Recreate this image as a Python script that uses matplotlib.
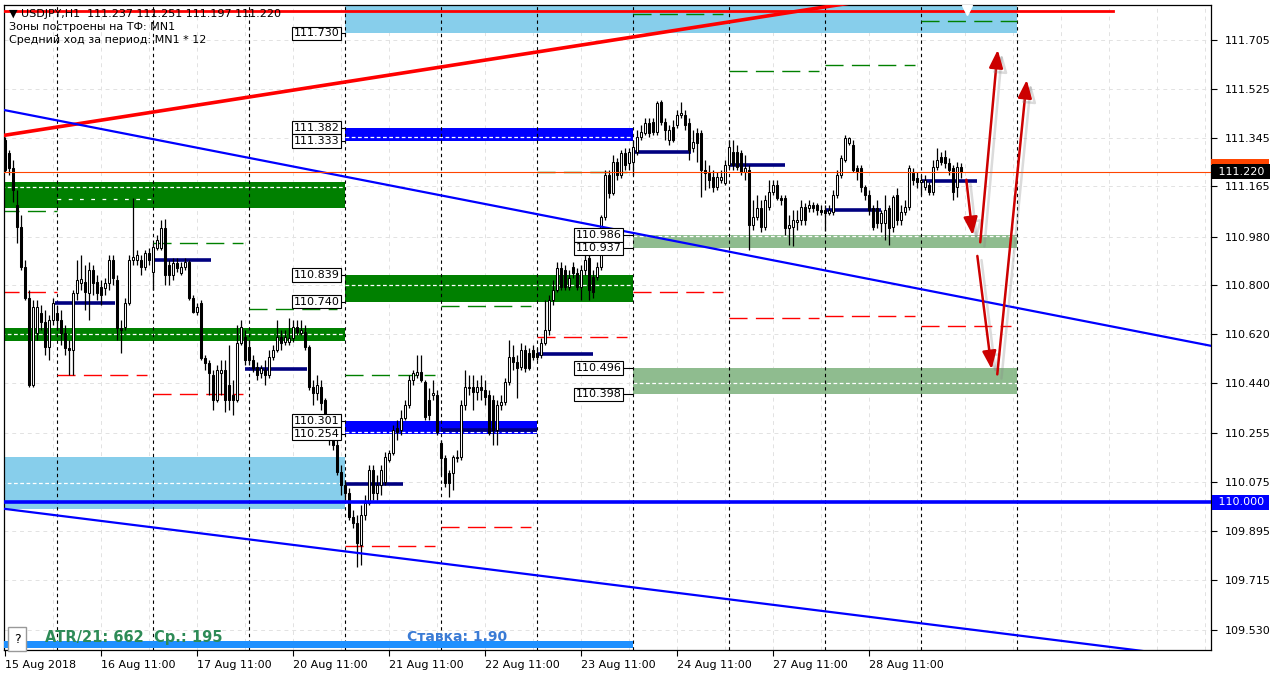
import matplotlib
matplotlib.use('Agg')
import matplotlib.pyplot as plt
import matplotlib.patheffects as pe
from matplotlib.patches import Rectangle, FancyArrowPatch

plt.rcParams['font.family'] = ['DejaVu Sans']

# USDJPY H1, one value per hourly bar, bar 0 = 15 Aug 2018 11:00
opens = [
    111.336, 111.288, 111.233, 111.096, 111.015, 110.868, 110.754, 110.433, 110.625, 110.698,
    110.665, 110.573, 110.673, 110.698, 110.673, 110.625, 110.569, 110.562, 110.772, 110.809,
    110.813, 110.772, 110.857, 110.813, 110.794, 110.791, 110.809, 110.894, 110.820, 110.643,
    110.647, 110.735, 110.894, 110.894, 110.894, 110.868, 110.919, 110.850, 110.938, 110.938,
    111.011, 110.875, 110.838, 110.883, 110.846, 110.868, 110.886, 110.754, 110.702, 110.735,
    110.533, 110.514, 110.470, 110.378, 110.477, 110.488, 110.433, 110.396, 110.378, 110.588,
    110.610, 110.573, 110.525, 110.499, 110.477, 110.488, 110.470, 110.536, 110.562, 110.610,
    110.591, 110.591, 110.606, 110.647, 110.625, 110.628, 110.573, 110.426, 110.403, 110.426,
    110.378, 110.304, 110.241, 110.212, 110.112, 110.064, 110.035, 109.946, 109.924, 109.843,
    109.954, 109.998, 110.120, 110.035, 110.064, 110.075, 110.156, 110.182, 110.274, 110.267,
    110.311, 110.359, 110.451, 110.470, 110.481, 110.444, 110.378, 110.396, 110.396, 110.219,
    110.164, 110.109, 110.109, 110.164, 110.167, 110.359, 110.422, 110.426, 110.407, 110.426,
    110.414, 110.396, 110.378, 110.267, 110.359, 110.370, 110.444, 110.536, 110.518, 110.499,
    110.562, 110.551, 110.562, 110.551, 110.544, 110.588, 110.636, 110.746, 110.783, 110.864,
    110.857, 110.794, 110.868, 110.846, 110.794, 110.857, 110.901, 110.831, 110.831, 110.868,
    111.052, 111.207, 111.141, 111.255, 111.207, 111.288, 111.251, 111.255, 111.292, 111.347,
    111.362, 111.399, 111.402, 111.365, 111.476, 111.402, 111.336, 111.384, 111.391, 111.428,
    111.428, 111.399, 111.307, 111.362, 111.362, 111.225, 111.214, 111.200, 111.163, 111.189,
    111.178, 111.244, 111.292, 111.292, 111.288, 111.218, 111.225, 111.023, 111.052, 111.085,
    111.015, 111.089, 111.144, 111.170, 111.122, 111.122, 111.011, 111.015, 111.034, 111.041,
    111.089, 111.085, 111.096, 111.096, 111.078, 111.078, 111.067, 111.071, 111.133, 111.207,
    111.262, 111.325, 111.318, 111.233, 111.233, 111.163, 111.133, 111.085, 111.085, 111.030,
    111.030, 111.085, 111.015, 111.133, 111.041, 111.071, 111.089, 111.214, 111.196, 111.181,
    111.163, 111.170, 111.144, 111.236, 111.273, 111.273, 111.251, 111.233, 111.163, 111.237,
]
highs = [
    111.347, 111.299, 111.262, 111.152, 111.059, 110.894, 110.783, 110.746, 110.746, 110.728,
    110.709, 110.691, 110.754, 110.728, 110.709, 110.654, 110.599, 110.783, 110.894, 110.912,
    110.875, 110.886, 110.875, 110.838, 110.820, 110.827, 110.912, 110.912, 110.838, 110.673,
    110.754, 110.912, 111.122, 110.931, 110.912, 110.931, 110.938, 110.956, 110.986, 111.041,
    111.044, 110.894, 110.901, 110.901, 110.886, 110.901, 110.894, 110.765, 110.735, 110.746,
    110.544, 110.525, 110.488, 110.507, 110.525, 110.525, 110.580, 110.451, 110.654, 110.673,
    110.636, 110.599, 110.544, 110.518, 110.507, 110.525, 110.562, 110.580, 110.673, 110.636,
    110.636, 110.680, 110.673, 110.673, 110.673, 110.654, 110.580, 110.451, 110.470, 110.451,
    110.385, 110.322, 110.267, 110.230, 110.138, 110.083, 110.053, 109.972, 109.954, 109.991,
    110.027, 110.138, 110.138, 110.101, 110.138, 110.186, 110.193, 110.285, 110.304, 110.341,
    110.378, 110.470, 110.488, 110.544, 110.544, 110.451, 110.422, 110.451, 110.414, 110.230,
    110.175, 110.120, 110.175, 110.193, 110.378, 110.488, 110.470, 110.470, 110.451, 110.470,
    110.451, 110.414, 110.396, 110.378, 110.396, 110.459, 110.599, 110.580, 110.544, 110.588,
    110.580, 110.569, 110.580, 110.569, 110.606, 110.746, 110.765, 110.820, 110.886, 110.886,
    110.875, 110.857, 110.886, 110.864, 110.875, 110.912, 110.923, 110.857, 110.886, 111.059,
    111.225, 111.225, 111.281, 111.270, 111.299, 111.307, 111.307, 111.336, 111.373, 111.391,
    111.417, 111.417, 111.417, 111.480, 111.483, 111.417, 111.391, 111.410, 111.447, 111.476,
    111.447, 111.417, 111.373, 111.380, 111.373, 111.262, 111.244, 111.225, 111.218, 111.225,
    111.262, 111.336, 111.336, 111.318, 111.299, 111.281, 111.244, 111.115, 111.133, 111.115,
    111.133, 111.189, 111.189, 111.189, 111.133, 111.133, 111.059, 111.078, 111.078, 111.115,
    111.104, 111.115, 111.107, 111.104, 111.096, 111.096, 111.096, 111.152, 111.225, 111.281,
    111.354, 111.347, 111.336, 111.244, 111.244, 111.170, 111.152, 111.096, 111.115, 111.078,
    111.133, 111.096, 111.133, 111.159, 111.096, 111.115, 111.244, 111.233, 111.218, 111.207,
    111.207, 111.181, 111.262, 111.307, 111.292, 111.299, 111.270, 111.244, 111.255, 111.251,
]
lows = [
    111.218, 111.207, 111.107, 110.956, 110.857, 110.746, 110.426, 110.426, 110.599, 110.636,
    110.544, 110.525, 110.654, 110.636, 110.580, 110.544, 110.470, 110.470, 110.746, 110.783,
    110.709, 110.673, 110.765, 110.746, 110.728, 110.765, 110.783, 110.802, 110.599, 110.551,
    110.636, 110.728, 110.875, 110.875, 110.838, 110.857, 110.875, 110.783, 110.931, 110.931,
    110.802, 110.802, 110.820, 110.850, 110.838, 110.857, 110.746, 110.698, 110.691, 110.525,
    110.488, 110.396, 110.341, 110.370, 110.396, 110.333, 110.341, 110.322, 110.370, 110.580,
    110.507, 110.507, 110.481, 110.451, 110.459, 110.433, 110.459, 110.525, 110.555, 110.562,
    110.580, 110.580, 110.591, 110.617, 110.617, 110.562, 110.414, 110.359, 110.378, 110.341,
    110.267, 110.212, 110.193, 110.101, 110.027, 110.009, 109.935, 109.906, 109.762, 109.769,
    109.935, 109.991, 110.009, 110.009, 110.027, 110.064, 110.149, 110.175, 110.230, 110.248,
    110.304, 110.348, 110.433, 110.459, 110.444, 110.304, 110.304, 110.378, 110.248, 110.101,
    110.057, 110.020, 110.046, 110.149, 110.156, 110.341, 110.396, 110.341, 110.378, 110.378,
    110.359, 110.248, 110.212, 110.212, 110.341, 110.359, 110.433, 110.488, 110.385, 110.488,
    110.481, 110.488, 110.525, 110.525, 110.533, 110.580, 110.617, 110.728, 110.776, 110.783,
    110.783, 110.783, 110.827, 110.783, 110.746, 110.838, 110.746, 110.754, 110.820, 110.857,
    111.041, 111.122, 111.133, 111.189, 111.196, 111.225, 111.225, 111.207, 111.281, 111.336,
    111.354, 111.347, 111.354, 111.354, 111.391, 111.336, 111.318, 111.329, 111.380, 111.417,
    111.373, 111.262, 111.292, 111.255, 111.126, 111.152, 111.159, 111.144, 111.152, 111.178,
    111.170, 111.233, 111.225, 111.225, 111.207, 111.189, 110.931, 111.004, 111.041, 110.997,
    111.004, 111.078, 111.133, 111.115, 111.096, 110.986, 110.949, 110.945, 111.004, 111.023,
    111.023, 111.071, 111.071, 111.059, 111.059, 111.001, 111.059, 111.059, 111.122, 111.196,
    111.255, 111.318, 111.218, 111.189, 111.144, 111.115, 111.059, 111.004, 111.012, 110.997,
    110.967, 110.949, 110.997, 111.023, 111.023, 111.059, 111.078, 111.170, 111.159, 111.133,
    111.152, 111.133, 111.133, 111.225, 111.244, 111.233, 111.207, 111.115, 111.126, 111.197,
]
closes = [
    111.225, 111.233, 111.152, 111.015, 110.868, 110.754, 110.433, 110.720, 110.720, 110.665,
    110.573, 110.673, 110.735, 110.673, 110.625, 110.569, 110.562, 110.772, 110.820, 110.824,
    110.776, 110.857, 110.809, 110.772, 110.765, 110.809, 110.894, 110.827, 110.643, 110.636,
    110.735, 110.894, 110.905, 110.912, 110.868, 110.919, 110.894, 110.942, 110.967, 111.011,
    110.838, 110.838, 110.883, 110.864, 110.868, 110.886, 110.754, 110.702, 110.720, 110.533,
    110.514, 110.477, 110.378, 110.488, 110.488, 110.378, 110.378, 110.378, 110.588, 110.647,
    110.525, 110.525, 110.496, 110.470, 110.496, 110.470, 110.536, 110.562, 110.610, 110.588,
    110.610, 110.606, 110.647, 110.628, 110.636, 110.573, 110.426, 110.403, 110.433, 110.367,
    110.304, 110.241, 110.212, 110.112, 110.064, 110.035, 109.946, 109.924, 109.850, 109.954,
    109.998, 110.120, 110.035, 110.064, 110.120, 110.167, 110.182, 110.267, 110.260, 110.311,
    110.359, 110.451, 110.477, 110.481, 110.451, 110.315, 110.322, 110.403, 110.260, 110.164,
    110.072, 110.072, 110.167, 110.167, 110.359, 110.426, 110.426, 110.407, 110.426, 110.414,
    110.389, 110.256, 110.267, 110.359, 110.370, 110.444, 110.536, 110.518, 110.496, 110.562,
    110.496, 110.496, 110.536, 110.536, 110.588, 110.636, 110.746, 110.783, 110.864, 110.794,
    110.794, 110.827, 110.846, 110.794, 110.857, 110.894, 110.783, 110.776, 110.868, 111.052,
    111.207, 111.141, 111.255, 111.207, 111.288, 111.244, 111.292, 111.310, 111.347, 111.365,
    111.399, 111.362, 111.365, 111.472, 111.402, 111.373, 111.373, 111.336, 111.428, 111.435,
    111.391, 111.299, 111.329, 111.325, 111.225, 111.214, 111.189, 111.163, 111.200, 111.200,
    111.244, 111.310, 111.244, 111.236, 111.218, 111.233, 111.023, 111.052, 111.085, 111.015,
    111.115, 111.144, 111.170, 111.122, 111.115, 111.011, 111.023, 111.041, 111.041, 111.089,
    111.041, 111.096, 111.085, 111.078, 111.071, 111.067, 111.078, 111.133, 111.207, 111.270,
    111.343, 111.343, 111.225, 111.218, 111.163, 111.133, 111.078, 111.015, 111.030, 111.067,
    111.078, 111.011, 111.126, 111.041, 111.071, 111.089, 111.233, 111.189, 111.181, 111.189,
    111.189, 111.144, 111.236, 111.262, 111.255, 111.251, 111.225, 111.144, 111.236, 111.220,
]

day_starts = [13, 37, 61, 85, 109, 133, 157, 181, 205, 229, 253]
tick_bars = [0, 24, 48, 72, 96, 120, 144, 168, 192, 216]
tick_labels = ['15 Aug 2018', '16 Aug 11:00', '17 Aug 11:00', '20 Aug 11:00', '21 Aug 11:00',
               '22 Aug 11:00', '23 Aug 11:00', '24 Aug 11:00', '27 Aug 11:00', '28 Aug 11:00']
price_ticks = [111.705, 111.525, 111.345, 111.165, 110.980, 110.800, 110.620,
               110.440, 110.255, 110.075, 109.895, 109.715, 109.530]
current_price = 111.220
round_level = 110.000

# zones (MN1 levels)
zone_start = [85, -1, -1, -1, 85, 85, 85, 157, 157]
zone_end = [253, 85, 85, 85, 157, 157, 133, 253, 253]
zone_low = [111.730, 109.976, 111.085, 110.595, 110.740, 111.333, 110.254, 110.937, 110.398]
zone_high = [111.950, 110.167, 111.181, 110.643, 110.839, 111.382, 110.301, 110.986, 110.496]
zone_mid = [None, 110.072, 111.163, 110.621, 110.802, 111.347, 110.260, 110.982, 110.440]
zone_kind = ['range', 'range', 'strong', 'strong', 'strong', 'blue', 'blue', 'weak', 'weak']

label_values = [111.730, 111.382, 111.333, 110.839, 110.740, 110.301, 110.254,
                110.986, 110.937, 110.496, 110.398]
label_anchor = [85, 85, 85, 85, 85, 85, 85, 157, 157, 157, 157]

# daily pivots
pivot_start = [12.5, 37, 60, 85, 109, 133, 157, 181, 205, 229]
pivot_end = [27.5, 51.5, 75.5, 99.5, 133, 147, 171.5, 195, 219, 243]
pivot_price = [110.735, 110.894, 110.492, 110.068, 110.267, 110.547, 111.292, 111.244, 111.078, 111.185]

# daily ranges, upper (green) and lower (red)
green_start = [-1, 37, 61, 85, 109, 133, 157, 181, 205, 229]
green_end = [13, 59.5, 83, 107.5, 131.5, 155.5, 179.5, 203.5, 227.5, 253]
green_price = [111.074, 110.956, 110.713, 110.470, 110.724, 111.218, 111.800, 111.592, 111.611, 111.776]
red_start = [-1, 13, 37, 85, 109, 133, 157, 181, 205, 229]
red_end = [13, 35.5, 59.5, 107.5, 131.5, 155.5, 179.5, 203.5, 227.5, 251.5]
red_price = [110.776, 110.470, 110.400, 109.839, 109.909, 110.610, 110.777, 110.680, 110.687, 110.650]

# trend lines (bar, price)
red_trend = [(0, 111.354), (212, 111.843)]
red_flat = [(-1, 111.813), (277, 111.813)]
blue_upper = [(-1, 111.449), (302, 110.576)]
blue_lower = [(-1, 109.978), (302, 109.420)]

# forecast arrows (bar, price) -> (bar, price)
arrow_from = [(240.25, 111.200), (243.75, 110.949), (243.0, 110.919), (248.0, 110.462)]
arrow_to = [(242.0, 110.975), (248.25, 111.679), (246.75, 110.481), (255.5, 111.568)]

zone_colors = {'range': '#87ceeb', 'strong': '#008000', 'blue': '#0000ff', 'weak': '#8fbc8f'}

fig = plt.figure(figsize=(12.73, 6.76), dpi=100)
ax = fig.add_axes([4 / 1273, 26 / 676, 1207 / 1273, 645 / 676])
ax.set_xlim(-0.25, 301.5)
ax.set_ylim(109.456, 111.834)

# grid
for p in price_ticks:
    ax.axhline(p, color='#e2e2e2', lw=0.7, ls=(0, (4, 4)), zorder=0)
for b in range(12, 302, 12):
    ax.axvline(b, color='#e2e2e2', lw=0.7, ls=(0, (4, 4)), zorder=0)

# zones
for s, e, lo, hi, mid, kind in zip(zone_start, zone_end, zone_low, zone_high, zone_mid, zone_kind):
    ax.add_patch(Rectangle((s, lo), e - s, hi - lo, facecolor=zone_colors[kind],
                           edgecolor='none', zorder=1))
    if mid is not None:
        ax.plot([s, e], [mid, mid], color='white', lw=0.9, ls=(0, (3, 2)), zorder=1.5)
ax.plot([13, 37], [111.118, 111.118], color='white', lw=0.9, ls=(0, (3, 6)), zorder=1.5)

# day separators
for d in day_starts:
    ax.axvline(d, color='black', lw=0.8, ls=(0, (3, 3)), zorder=2)

# daily range lines
for s, e, p in zip(green_start, green_end, green_price):
    ax.plot([s, e], [p, p], color='#008000', lw=1.0, ls=(0, (13, 6)), zorder=2.5)
for s, e, p in zip(red_start, red_end, red_price):
    ax.plot([s, e], [p, p], color='#ff0000', lw=1.0, ls=(0, (13, 6)), zorder=2.5)

# pivots
for s, e, p in zip(pivot_start, pivot_end, pivot_price):
    ax.plot([s, e], [p, p], color='#000080', lw=2.6, solid_capstyle='butt', zorder=3)

# candles
xs = list(range(len(closes)))
ax.vlines(xs, lows, highs, color='black', lw=0.9, zorder=3.5)
for x, o, c in zip(xs, opens, closes):
    bottom = min(o, c)
    height = max(abs(c - o), 0.003)
    ax.add_patch(Rectangle((x - 0.32, bottom), 0.64, height,
                           facecolor='white' if c > o else 'black',
                           edgecolor='black', lw=0.75, zorder=4))

# trend lines
ax.plot(*zip(*red_trend), color='#ff0000', lw=2.6, zorder=5)
ax.plot(*zip(*red_flat), color='#ff0000', lw=2.0, zorder=5)
ax.plot(*zip(*blue_upper), color='#0000ff', lw=1.6, zorder=5)
ax.plot(*zip(*blue_lower), color='#0000ff', lw=1.6, zorder=5)
ax.axhline(round_level, color='#0000ff', lw=2.6, zorder=5)
ax.axhline(current_price, color='#ff4500', lw=0.8, zorder=5)
ax.plot([240.5], [111.815], marker='v', color='white', ms=7, zorder=6, clip_on=False)

# level labels
for v, a in zip(label_values, label_anchor):
    end = a - (1.4 if a < 100 else 2.9)
    ax.plot([end, a], [v, v], color='black', lw=0.8, zorder=6)
    ax.text(end, v, f'{v:.3f}', ha='right', va='center', fontsize=8, zorder=7,
            bbox=dict(boxstyle='square,pad=0.15', facecolor='white', edgecolor='black', lw=0.8))

# arrows
for (x0, y0), (x1, y1) in zip(arrow_from, arrow_to):
    arr = FancyArrowPatch((x0, y0), (x1, y1), arrowstyle='-|>,head_length=9,head_width=3.5',
                          mutation_scale=1.2, color='#cc0000', lw=1.8, zorder=8,
                          path_effects=[pe.SimpleLineShadow(offset=(3, -3), shadow_color='#888888', alpha=0.3),
                                        pe.Normal()])
    ax.add_patch(arr)

# axes styling
for sp in ax.spines.values():
    sp.set_color('black')
    sp.set_linewidth(0.9)
ax.yaxis.tick_right()
ax.set_yticks(price_ticks)
ax.set_yticklabels([f'{p:.3f}' for p in price_ticks])
ax.tick_params(axis='y', direction='out', length=4, pad=6, labelsize=8)
ax.set_xticks(tick_bars)
ax.set_xticklabels(tick_labels, ha='left')
ax.tick_params(axis='x', direction='out', length=4, pad=3, labelsize=8)

ytrans = ax.get_yaxis_transform()
ax.add_patch(Rectangle((1.0, 111.243), 0.048, 0.022, transform=ytrans, facecolor='#ff4500',
                       edgecolor='none', clip_on=False, zorder=9))
ax.text(1.003, current_price, ' 111.220 ', transform=ytrans, ha='left', va='center', color='white',
        fontsize=8, zorder=10, clip_on=False,
        bbox=dict(boxstyle='square,pad=0.2', facecolor='black', edgecolor='none'))
ax.text(1.003, round_level, ' 110.000 ', transform=ytrans, ha='left', va='center', color='white',
        fontsize=8, zorder=10, clip_on=False,
        bbox=dict(boxstyle='square,pad=0.2', facecolor='#0000ff', edgecolor='none'))

# header texts
ax.text(0.004, 0.986, '▼ USDJPY,H1  111.237 111.251 111.197 111.220', transform=ax.transAxes,
        fontsize=8, va='center', ha='left', zorder=10)
ax.text(0.004, 0.966, 'Зоны построены на ТФ: MN1', transform=ax.transAxes,
        fontsize=8, va='center', ha='left', zorder=10)
ax.text(0.004, 0.946, 'Средний ход за период: MN1 * 12', transform=ax.transAxes,
        fontsize=8, va='center', ha='left', zorder=10)

# bottom info panel
xtrans = ax.get_xaxis_transform()
ax.add_patch(Rectangle((-0.25, 0.003), 157.25, 0.011, transform=xtrans, facecolor='#1e90ff',
                       edgecolor='none', zorder=9))
ax.text(3.0, 0.017, '?', transform=xtrans, ha='center', va='center', fontsize=9, zorder=10,
        bbox=dict(boxstyle='square,pad=0.45', facecolor='white', edgecolor='#999999'))
ax.text(10, 0.02, 'ATR/21: 662  Ср.: 195', transform=xtrans, ha='left', va='center',
        fontsize=10.5, fontweight='bold', color='#2e8b57', zorder=10)
ax.text(100.5, 0.02, 'Ставка: 1.90', transform=xtrans, ha='left', va='center',
        fontsize=10, fontweight='bold', color='#3a7bd5', zorder=10)

fig.savefig('out.png', dpi=100)
